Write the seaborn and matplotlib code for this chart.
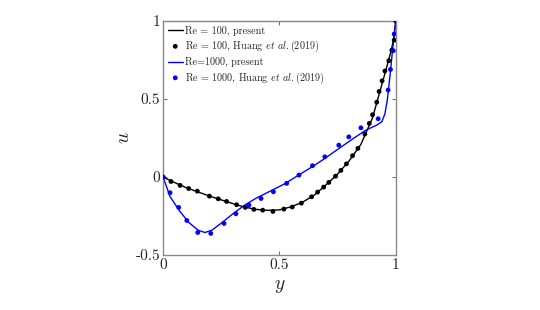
import matplotlib
matplotlib.use("Agg")
import matplotlib.pyplot as plt
import seaborn as sns

# Re = 100, present (solid black line)
y_re100 = [0, 0.05, 0.1, 0.15, 0.2, 0.25, 0.3, 0.35, 0.4, 0.45, 0.5, 0.55, 0.6,
           0.65, 0.7, 0.75, 0.8, 0.85, 0.9, 0.93, 0.96, 0.98, 0.99, 1.0]
u_re100 = [0, -0.035, -0.068, -0.095, -0.122, -0.146, -0.17, -0.192, -0.207,
           -0.213, -0.21, -0.19, -0.16, -0.115, -0.05, 0.02, 0.105, 0.21, 0.38,
           0.54, 0.70, 0.81, 0.88, 1.0]

# Re = 100, Huang et al. (2019) (black dots)
y_re100_ref = [0, 0.034, 0.073, 0.11, 0.147, 0.199, 0.237, 0.273, 0.316, 0.353,
               0.39, 0.428, 0.472, 0.519, 0.555, 0.594, 0.638, 0.664, 0.69,
               0.712, 0.741, 0.764, 0.788, 0.814, 0.837, 0.867, 0.886, 0.9,
               0.918, 0.928, 0.941, 0.953, 0.97, 0.983, 0.993, 1.0]
u_re100_ref = [0, -0.028, -0.053, -0.073, -0.09, -0.122, -0.139, -0.156, -0.177,
               -0.194, -0.207, -0.212, -0.22, -0.205, -0.192, -0.167, -0.126,
               -0.096, -0.064, -0.034, 0.006, 0.043, 0.085, 0.137, 0.184, 0.276,
               0.344, 0.4, 0.48, 0.549, 0.617, 0.68, 0.746, 0.814, 0.878, 1.0]

# Re = 1000, present (solid blue line)
y_re1000 = [0, 0.03, 0.07, 0.11, 0.15, 0.18, 0.21, 0.25, 0.30, 0.35, 0.40, 0.46,
            0.52, 0.59, 0.645, 0.70, 0.76, 0.82, 0.87, 0.92, 0.94, 0.953, 0.963,
            0.97, 0.977, 0.985, 0.993, 1.0]
u_re1000 = [0, -0.125, -0.215, -0.29, -0.34, -0.355, -0.34, -0.295, -0.235,
            -0.18, -0.135, -0.09, -0.045, 0.02, 0.07, 0.125, 0.188, 0.25, 0.30,
            0.335, 0.355, 0.405, 0.49, 0.58, 0.68, 0.80, 0.91, 1.0]

# Re = 1000, Huang et al. (2019) (blue dots)
y_re1000_ref = [0, 0.03, 0.067, 0.102, 0.149, 0.205, 0.262, 0.313, 0.369, 0.421,
                0.474, 0.531, 0.584, 0.642, 0.695, 0.755, 0.798, 0.85, 0.924,
                0.967, 0.977, 0.989, 0.993, 1.0]
u_re1000_ref = [0, -0.1, -0.194, -0.278, -0.355, -0.361, -0.297, -0.235, -0.179,
                -0.137, -0.094, -0.04, 0.013, 0.073, 0.13, 0.205, 0.258, 0.316,
                0.374, 0.558, 0.69, 0.81, 0.917, 1.0]

sns.set_style("ticks")
plt.rcParams["font.family"] = "serif"
plt.rcParams["font.serif"] = ["cmr10", "DejaVu Serif"]
plt.rcParams["mathtext.fontset"] = "cm"
plt.rcParams["axes.formatter.use_mathtext"] = True

fig = plt.figure(figsize=(5.4, 3.1), dpi=100)
ax = fig.add_axes([0.302, 0.177, 0.431, 0.755])

sns.lineplot(x=y_re100, y=u_re100, color="black", lw=1.0, sort=False,
             estimator=None, label="Re = 100, present", ax=ax)
sns.scatterplot(x=y_re100_ref, y=u_re100_ref, color="black", s=12,
                edgecolor="none", label="Re = 100, Huang $et$ $al.$(2019)",
                ax=ax, zorder=3)
sns.lineplot(x=y_re1000, y=u_re1000, color="#0000ff", lw=1.0, sort=False,
             estimator=None, label="Re=1000, present", ax=ax)
sns.scatterplot(x=y_re1000_ref, y=u_re1000_ref, color="#0000ff", s=12,
                edgecolor="none", label="Re = 1000, Huang $et$ $al.$(2019)",
                ax=ax, zorder=3)

ax.set_xlim(0, 1)
ax.set_ylim(-0.5, 1)
ax.set_xticks([0, 0.5, 1])
ax.set_xticklabels(["0", "0.5", "1"])
ax.set_yticks([-0.5, 0, 0.5, 1])
ax.set_yticklabels(["-0.5", "0", "0.5", "1"])
ax.tick_params(direction="in", length=3, width=0.6, color="#555555",
               top=True, right=True, labelsize=11, pad=2)
for sp in ax.spines.values():
    sp.set_color("#888888")
    sp.set_linewidth(1.0)

ax.set_xlabel("$y$", fontsize=14, labelpad=4)
ax.set_ylabel("$u$", fontsize=14, labelpad=2)

ax.legend(loc="upper left", frameon=False, fontsize=7.3, handlelength=1.5,
          handletextpad=0.2, labelspacing=0.3, borderaxespad=0.25,
          borderpad=0.2, markerscale=1.0)

fig.savefig("out.png", dpi=100)
